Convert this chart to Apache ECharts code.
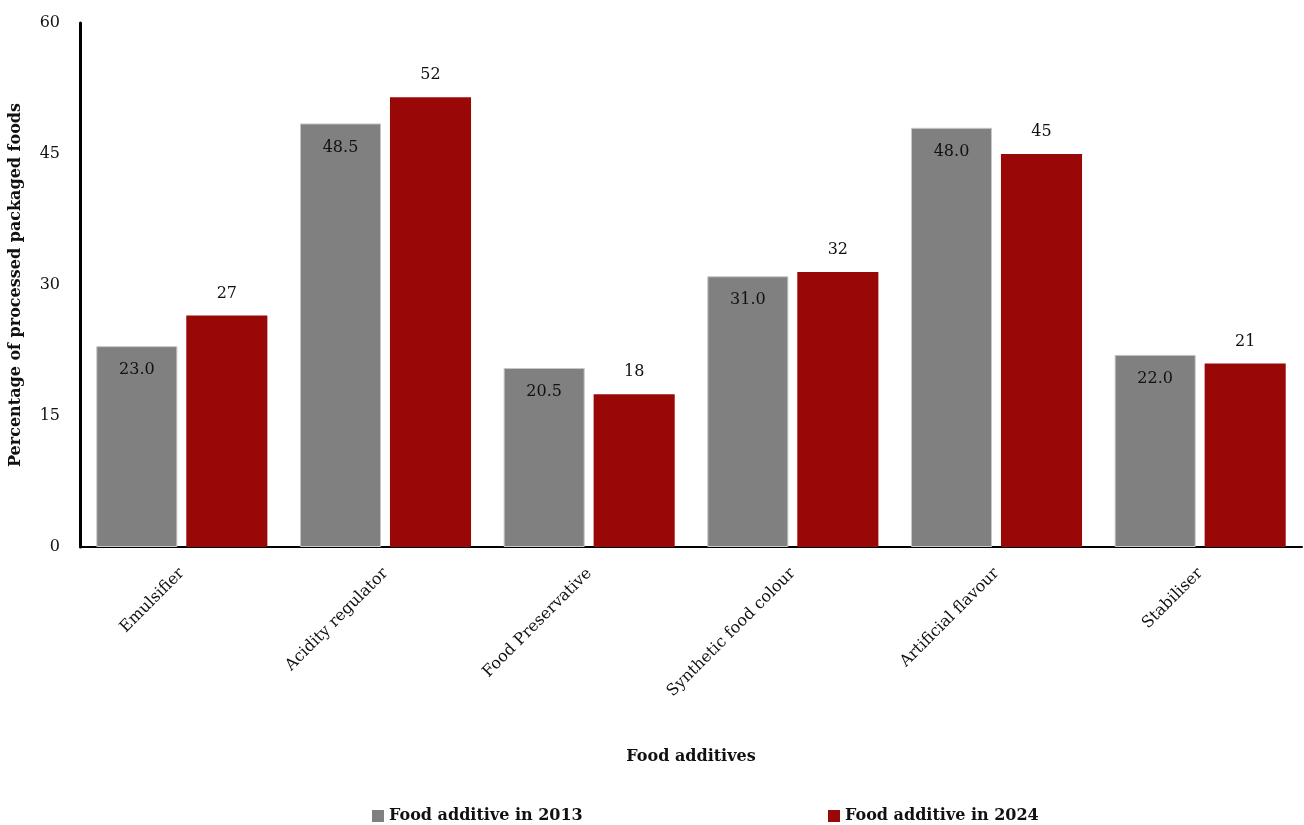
<!DOCTYPE html>
<html>
<head>
<meta charset="utf-8">
<script src="https://cdn.jsdelivr.net/npm/echarts@6/dist/echarts.min.js"></script>
<style>html,body{margin:0;padding:0;background:#fff}#c{width:1304px;height:825px}</style>
</head>
<body>
<div id="c"></div>
<script>
const categories = ['Emulsifier','Acidity regulator','Food Preservative','Synthetic food colour','Artificial flavour','Stabiliser'];
const values2013 = [23.0, 48.5, 20.5, 31.0, 48.0, 22.0];
const values2024 = [26.5, 51.5, 17.5, 31.5, 45.0, 21.0];
const seriesNames = ['Food additive in 2013','Food additive in 2024'];
const yTicks = [0, 15, 30, 45, 60];

const FONT = 'DejaVu Serif';
const chart = echarts.init(document.getElementById('c'));
const legendText = {fontFamily: FONT, fontWeight: 'bold', fontSize: 16, color: '#111'};
chart.setOption({
  animation: false,
  textStyle: {fontFamily: FONT},
  grid: {left: 78, right: 2, top: 23, bottom: 278, containLabel: false},
  legend: [
    {data: [seriesNames[0]], left: 372, top: 808, padding: 0, icon: 'rect', itemWidth: 12, itemHeight: 12,
     itemStyle: {borderWidth: 0}, textStyle: legendText},
    {data: [seriesNames[1]], left: 828, top: 808, padding: 0, icon: 'rect', itemWidth: 12, itemHeight: 12,
     itemStyle: {borderWidth: 0}, textStyle: legendText}
  ],
  xAxis: {
    type: 'category',
    data: categories,
    name: 'Food additives',
    nameLocation: 'middle',
    nameGap: 202,
    nameTextStyle: {fontFamily: FONT, fontWeight: 'bold', fontSize: 16, color: '#111'},
    axisLine: {lineStyle: {color: '#000', width: 2}},
    axisTick: {show: false},
    axisLabel: {rotate: 45, fontSize: 16, color: '#111', margin: 24, fontFamily: FONT}
  },
  yAxis: {
    type: 'value',
    min: yTicks[0], max: yTicks[yTicks.length-1], interval: 15,
    name: 'Percentage of processed packaged foods',
    nameLocation: 'middle',
    nameGap: 56,
    nameTextStyle: {fontFamily: FONT, fontWeight: 'bold', fontSize: 16, color: '#111'},
    axisLine: {show: true, lineStyle: {color: '#000', width: 3}},
    axisTick: {show: false},
    splitLine: {show: false},
    axisLabel: {fontSize: 16, color: '#111', margin: 20, fontFamily: FONT}
  },
  series: [
    {
      name: seriesNames[0], type: 'bar', data: values2013,
      barGap: '11%', barCategoryGap: '16%',
      itemStyle: {color: '#808080', borderRadius: 0, borderColor: '#c8c8c8', borderWidth: 1},
      label: {show: true, position: 'insideTop', distance: 16, fontSize: 16, color: '#111', fontFamily: FONT,
              formatter: p => p.value.toFixed(1)}
    },
    {
      name: seriesNames[1], type: 'bar', data: values2024,
      itemStyle: {color: '#990707', borderRadius: 0},
      label: {show: true, position: 'top', distance: 14, fontSize: 16, color: '#111', fontFamily: FONT,
              formatter: p => String(Math.round(p.value))}
    }
  ]
});
</script>
</body>
</html>
